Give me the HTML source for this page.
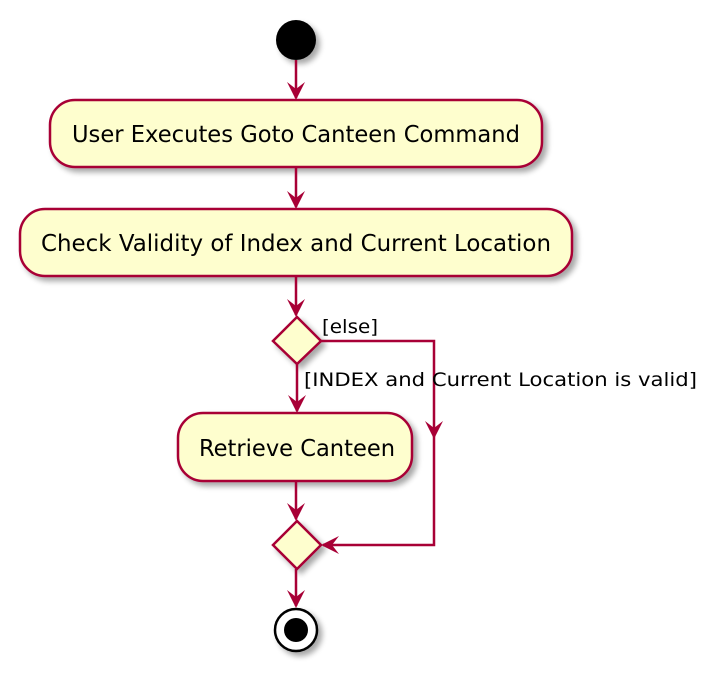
<!DOCTYPE html>
<html><head><style>body{margin:0;background:#fff}svg{display:block}</style></head><body>
<svg width="720" height="673" viewBox="0 0 720 673" xmlns="http://www.w3.org/2000/svg" font-family="'DejaVu Sans','Liberation Sans',sans-serif">
<defs><filter id="sh" x="-20%" y="-20%" width="150%" height="150%"><feGaussianBlur in="SourceAlpha" stdDeviation="3"/><feOffset dx="4" dy="4"/><feComponentTransfer><feFuncA type="linear" slope="0.35"/></feComponentTransfer><feMerge><feMergeNode/><feMergeNode in="SourceGraphic"/></feMerge></filter></defs>
<g stroke="#A80036" stroke-width="2.5" fill="#FEFECE">
<circle cx="296" cy="40" r="20" fill="#000" stroke="none" filter="url(#sh)"/>
<rect x="50" y="100" width="492" height="67" rx="25" filter="url(#sh)"/>
<rect x="20" y="209" width="552" height="67" rx="25" filter="url(#sh)"/>
<polygon points="297,317 321,341 297,364 273,341" filter="url(#sh)"/>
<rect x="178" y="413" width="234" height="68" rx="25" filter="url(#sh)"/>
<polygon points="297,521 321,545 297,569 273,545" filter="url(#sh)"/>
<circle cx="296" cy="630" r="21" fill="#fff" stroke="#000" filter="url(#sh)"/>
<circle cx="296" cy="630" r="12" fill="#000" stroke="none"/>
<g fill="none">
<line x1="296" y1="60" x2="296" y2="98"/>
<line x1="296" y1="167" x2="296" y2="207"/>
<line x1="296" y1="276" x2="296" y2="315"/>
<line x1="297" y1="364" x2="297" y2="411"/>
<line x1="296" y1="481" x2="296" y2="519"/>
<line x1="296" y1="569" x2="296" y2="606"/>
<polyline points="321,341 434,341 434,545 323,545"/>
</g>
<g fill="#A80036" stroke="none">
<polygon points="287,82 296,100 305,82 296,89"/>
<polygon points="287,191 296,209 305,191 296,198"/>
<polygon points="287,299 296,317 305,299 296,306"/>
<polygon points="288,395 297,413 306,395 297,402"/>
<polygon points="287,503 296,521 305,503 296,510"/>
<polygon points="287,590 296,608 305,590 296,597"/>
<polygon points="425,421 434,439 443,421 434,428"/>
<polygon points="339,536 321,545 339,554 332,545"/>
</g>
</g>
<g fill="#000" font-size="23">
<text x="72" y="142" textLength="448" lengthAdjust="spacingAndGlyphs">User Executes Goto Canteen Command</text>
<text x="41" y="251" textLength="510" lengthAdjust="spacingAndGlyphs">Check Validity of Index and Current Location</text>
<text x="199" y="456" textLength="196" lengthAdjust="spacingAndGlyphs">Retrieve Canteen</text>
</g>
<g fill="#000" font-size="19">
<text x="322" y="333" textLength="56" lengthAdjust="spacingAndGlyphs">[else]</text>
<text x="304" y="386" textLength="393" lengthAdjust="spacingAndGlyphs">[INDEX and Current Location is valid]</text>
</g>
</svg>
</body></html>
